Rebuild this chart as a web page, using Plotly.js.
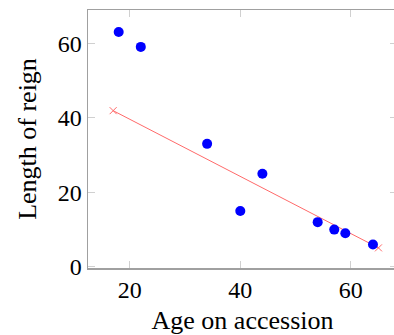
<!DOCTYPE html>
<html>
<head>
<meta charset="utf-8">
<script src="https://cdn.plot.ly/plotly-3.0.1.min.js"></script>
<style>
html,body{margin:0;padding:0;overflow:hidden;background:#fff;}
#chart{width:398px;height:335px;}
</style>
</head>
<body>
<div id="chart"></div>
<script>
var ageOnAccession = [18, 22, 34, 40, 44, 54, 57, 59, 64];
var lengthOfReign = [63, 59, 33, 15, 25, 12, 10, 9, 6];
var trendAge = [17, 65];
var trendLength = [41.9, 5.1];
var xTicks = [20, 40, 60];
var yTicks = [0, 20, 40, 60];

var font = 'Liberation Serif, Times New Roman, serif';

var data = [
  {
    x: trendAge, y: trendLength, type: 'scatter', mode: 'lines+markers',
    line: {color: '#ff6a6a', width: 1},
    marker: {symbol: 'x-thin-open', size: 7, color: '#ff6a6a', line: {color: '#ff6a6a', width: 1}},
    showlegend: false, hoverinfo: 'skip'
  },
  {
    x: ageOnAccession, y: lengthOfReign, type: 'scatter', mode: 'markers',
    marker: {symbol: 'circle', size: 10, color: '#0000ff'},
    showlegend: false
  }
];

function axis(extra) {
  var a = {
    showgrid: false, zeroline: false,
    showline: true, linecolor: '#a0a0a0', linewidth: 1.5, mirror: 'allticks',
    ticks: 'inside', ticklen: 7, tickwidth: 1, tickcolor: '#d0d0d0',
    tickfont: {family: font, size: 24, color: '#000'}
  };
  for (var k in extra) a[k] = extra[k];
  return a;
}

var layout = {
  width: 398, height: 335,
  margin: {l: 88, r: 1, t: 10, b: 67},
  paper_bgcolor: '#fff', plot_bgcolor: '#fff',
  font: {family: font, color: '#000', size: 24},
  xaxis: axis({
    range: [12.45, 68.35], tickvals: xTicks, ticktext: xTicks.map(String),
    title: {text: 'Age on accession', font: {family: font, size: 26, color: '#000'}, standoff: 13}
  }),
  yaxis: axis({
    range: [-0.3, 68.9], tickvals: yTicks, ticktext: yTicks.map(String),
    title: {text: 'Length of reign', font: {family: font, size: 26, color: '#000'}, standoff: 13}
  })
};

Plotly.newPlot('chart', data, layout, {displayModeBar: false, staticPlot: true});
</script>
</body>
</html>
